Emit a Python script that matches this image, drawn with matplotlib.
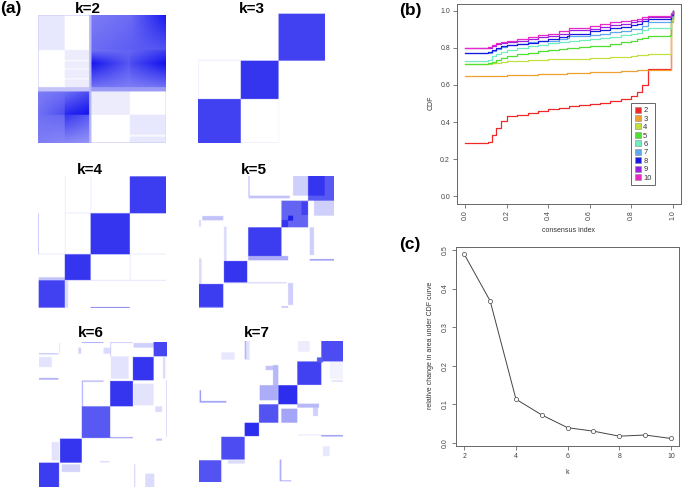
import numpy as np
import matplotlib
matplotlib.use('Agg')
import matplotlib.pyplot as plt
from matplotlib.colors import LinearSegmentedColormap
from matplotlib.lines import Line2D

plt.rcParams['font.family'] = ['Liberation Sans', 'DejaVu Sans']

W, H = 686, 488

# consensus matrices: blocks are (x0, x1, y0, y1, level), level may be 4 corners
k2_blocks = [
    (115, 195, 45, 150, .1), (195, 268, 150, 262, .08),
    (115, 268, 262, 275, .25), (268, 275, 45, 430, .3),
    (275, 390, 45, 150, (.55, .62, .62, .68)), (390, 498, 45, 150, (.62, .98, .68, .72)),
    (275, 390, 150, 190, (.6, .65, .98, .7)), (275, 390, 190, 262, (.98, .7, .6, .55)),
    (390, 498, 150, 190, (.65, .8, .75, 1)), (390, 498, 190, 262, (.75, 1, .55, .6)),
    (275, 498, 262, 275, .42),
    (115, 195, 275, 345, (.55, .6, .6, .75)), (195, 268, 275, 345, (.6, .75, .9, 1)),
    (115, 195, 345, 430, (.6, .65, .55, .5)), (195, 268, 345, 430, (.85, .7, .5, .45)),
    (275, 390, 275, 345, .08), (390, 498, 345, 430, .1),
    (390, 498, 405, 411, .03), (195, 268, 180, 184, .03), (195, 268, 205, 209, .03),
    (195, 268, 235, 239, .03), (115, 268, 45, 47, .2), (115, 117, 45, 262, .2),
    (275, 498, 428, 430, .2), (496, 498, 275, 430, .15),
]
k3_blocks = [
    (595, 723, 298, 430, .8), (723, 836, 183, 298, .85), (836, 975, 42, 183, .8),
    (595, 723, 180, 183, .08), (595, 597, 183, 298, .08), (723, 836, 428, 430, .08),
    (836, 838, 298, 430, .05),
]
k4_blocks = [
    (117, 195, 376, 458, .8), (195, 272, 298, 376, .85),
    (272, 389, 175, 298, .85), (389, 497, 64, 175, .82),
    (195, 197, 64, 298, .12), (272, 274, 64, 175, .12), (117, 272, 296, 298, .12),
    (389, 497, 296, 298, .12), (389, 391, 298, 376, .12), (195, 497, 375, 377, .15),
    (115, 117, 175, 298, .3), (272, 389, 456, 459, .5), (117, 195, 367, 376, .25),
    (195, 205, 376, 458, .15), (197, 389, 173, 175, .12),
]
k5_blocks = [
    (597, 670, 387, 458, .82), (672, 742, 318, 384, .85), (745, 845, 217, 316, .82),
    (845, 925, 137, 217, .65), (845, 865, 195, 217, .85), (865, 880, 182, 197, .95),
    (905, 925, 140, 180, .8), (925, 1003, 63, 137, .7), (925, 975, 63, 122, .85),
    (880, 925, 63, 122, .2), (943, 1003, 137, 182, .2), (607, 670, 183, 196, .25),
    (745, 870, 122, 130, .25), (745, 750, 63, 130, .2), (597, 605, 310, 387, .15),
    (672, 680, 215, 318, .15), (865, 880, 384, 450, .2), (930, 943, 217, 300, .2),
    (930, 1003, 312, 317, .4), (745, 865, 303, 316, .35), (672, 860, 382, 385, .2),
    (597, 670, 456, 459, .4), (845, 865, 454, 458, .3), (597, 603, 195, 215, .15),
]
k6_blocks = [
    (117, 177, 427, 500, .82), (180, 245, 355, 427, .85), (245, 330, 258, 353, .7),
    (330, 398, 182, 258, .85), (398, 460, 110, 180, .85), (460, 500, 65, 108, .78),
    (185, 240, 432, 455, .18), (155, 177, 365, 420, .12), (245, 310, 64, 68, .35),
    (117, 175, 99, 102, .3), (117, 175, 173, 178, .35), (117, 155, 110, 140, .12),
    (332, 385, 108, 175, .12), (245, 310, 180, 185, .25), (245, 249, 182, 258, .3),
    (400, 460, 190, 255, .12), (400, 460, 68, 82, .2), (330, 398, 350, 354, .35),
    (435, 462, 460, 500, .15), (402, 405, 432, 500, .2), (488, 495, 110, 175, .15),
    (465, 485, 258, 275, .15), (498, 500, 180, 350, .2), (468, 485, 355, 361, .25),
    (235, 243, 82, 100, .2), (310, 330, 82, 100, .15), (330, 398, 65, 68, .2),
    (330, 333, 65, 108, .2), (178, 180, 68, 100, .15), (300, 328, 423, 426, .2),
]
k7_blocks = [
    (598, 665, 422, 487, .72), (665, 735, 352, 420, .75), (735, 778, 310, 350, .88),
    (778, 836, 255, 310, .72), (836, 893, 198, 255, .88), (893, 965, 127, 197, .8),
    (965, 1030, 63, 127, .75), (780, 835, 198, 243, .35), (845, 893, 268, 310, .38),
    (820, 836, 138, 198, .3), (798, 820, 140, 153, .25), (893, 958, 253, 265, .3),
    (940, 955, 265, 290, .2), (665, 705, 100, 122, .1), (600, 604, 213, 250, .45),
    (600, 680, 245, 250, .4), (965, 1030, 347, 351, .45), (895, 965, 345, 348, .1),
    (735, 750, 64, 122, .12), (735, 740, 64, 120, .3), (840, 845, 420, 485, .35),
    (840, 875, 482, 485, .35), (970, 990, 380, 410, .1), (895, 930, 65, 98, .08),
    (685, 735, 422, 432, .15), (952, 970, 115, 130, .7), (990, 1030, 127, 180, .05),
    (995, 1030, 183, 188, .12),
]

# where each panel sits: block coordinates and pixels on the page
panels = [
    ('k=2', k2_blocks, (115, 498, 45, 430), (38, 166, 15, 143), 88, 9),
    ('k=3', k3_blocks, (595, 975, 40, 430), (198, 325, 13, 143), 252, 9),
    ('k=4', k4_blocks, (115, 497, 63, 459), (38, 166, 176, 308), 90, 170),
    ('k=5', k5_blocks, (597, 1003, 63, 459), (199, 334, 176, 308), 254, 170),
    ('k=6', k6_blocks, (117, 500, 65, 500), (39, 167, 342, 487), 91, 333),
    ('k=7', k7_blocks, (598, 1030, 63, 487), (199, 343, 341, 482), 257, 333),
]

consensus_x = [0, .1, .11, .13, .15, .17, .2, .25, .3, .35, .4, .45, .49, .5, .55, .6,
               .65, .7, .75, .8, .83, .85, .88, .985, .99, 1.0]
cdf_2 = [.285, .285, .29, .33, .37, .405, .43, .44, .45, .46, .47, .475, .478, .488, .49, .50,
         .505, .515, .525, .54, .563, .60, .685, .688, .95, 1]
cdf_3 = [.648, .649, .649, .650, .650, .651, .652, .653, .655, .657, .659, .661, .663, .665, .666, .668,
         .670, .672, .674, .677, .679, .680, .682, .683, .94, 1]
cdf_4 = [.712, .712, .714, .717, .72, .722, .727, .730, .733, .736, .738, .740, .741, .742, .743, .745,
         .747, .750, .753, .757, .760, .763, .770, .770, .95, 1]
cdf_5 = [.715, .715, .717, .725, .735, .745, .755, .765, .775, .782, .79, .796, .798, .802, .804, .808,
         .812, .822, .83, .84, .848, .855, .867, .868, .96, 1]
cdf_6 = [.73, .73, .735, .755, .77, .78, .79, .80, .81, .818, .825, .83, .832, .84, .843, .847,
         .852, .86, .868, .875, .88, .895, .91, .91, .97, 1]
cdf_7 = [.772, .772, .775, .785, .795, .805, .815, .822, .83, .835, .84, .85, .853, .862, .865, .87,
         .877, .885, .893, .90, .905, .92, .938, .938, .975, 1]
cdf_8 = [.772, .772, .778, .79, .80, .81, .815, .82, .825, .84, .85, .86, .862, .875, .878, .89,
         .895, .91, .915, .925, .93, .945, .958, .958, .98, 1]
cdf_9 = [.798, .798, .802, .81, .82, .825, .832, .84, .85, .858, .865, .875, .878, .895, .898, .905,
         .915, .925, .93, .94, .945, .955, .965, .965, .985, 1]
cdf_10 = [.80, .80, .805, .815, .825, .83, .838, .848, .858, .868, .878, .89, .892, .908, .91, .92,
          .93, .938, .945, .95, .955, .965, .972, .972, .99, 1]
cdf_labels = ['2', '3', '4', '5', '6', '7', '8', '9', '10']
cdf_colors = ['#f02828', '#f0a030', '#c0e040', '#50e030', '#70eec0',
              '#60a8ee', '#1818e0', '#9a20e0', '#e828c8']

k_values = [2, 3, 4, 5, 6, 7, 8, 9, 10]
delta_area = [.489, .368, .113, .072, .039, .030, .017, .020, .011]

GREY = '#666666'
cmap = LinearSegmentedColormap.from_list('consensus', ['#ffffff', '#1212ee'])


def add_axes(fig, x0, x1, y0, y1):
    return fig.add_axes([x0 / W, 1 - y1 / H, (x1 - x0) / W, (y1 - y0) / H])


def fill_blocks(blocks, box):
    xa, xb, ya, yb = box
    m = np.zeros((yb - ya, xb - xa))
    for x0, x1, y0, y1, level in blocks:
        x0, x1 = max(x0, xa) - xa, min(x1, xb) - xa
        y0, y1 = max(y0, ya) - ya, min(y1, yb) - ya
        if isinstance(level, tuple):
            tl, tr, bl, br = level
            u = np.linspace(0, 1, x1 - x0)[None, :]
            v = np.linspace(0, 1, y1 - y0)[:, None]
            m[y0:y1, x0:x1] = (tl * (1 - u) + tr * u) * (1 - v) + (bl * (1 - u) + br * u) * v
        else:
            m[y0:y1, x0:x1] = level
    return m


def style_axes(ax):
    for s in ax.spines.values():
        s.set_color(GREY)
        s.set_linewidth(0.7)
    ax.tick_params(length=3, width=0.6, color=GREY, labelcolor='#444444', labelsize=5, pad=2)


fig = plt.figure(figsize=(W / 100, H / 100), dpi=100)

for title, blocks, box, page, tx, ty in panels:
    ax = add_axes(fig, page[0], page[1], page[2], page[3])
    ax.imshow(fill_blocks(blocks, box), cmap=cmap, vmin=0, vmax=1, aspect='auto',
              interpolation='antialiased')
    ax.axis('off')
    fig.text(tx / W, 1 - ty / H, title, ha='center', va='center', fontsize=11, fontweight='bold')

# CDF panel
ax = add_axes(fig, 457, 681, 3.5, 203.5)
cdfs = [cdf_2, cdf_3, cdf_4, cdf_5, cdf_6, cdf_7, cdf_8, cdf_9, cdf_10]
for ys, col in zip(cdfs, cdf_colors):
    ax.plot(consensus_x, ys, color=col, lw=0.9, drawstyle='steps-post')
ax.set_xlim(-0.04, 1.04)
ax.set_ylim(-0.04, 1.04)
ax.set_xticks([0, .2, .4, .6, .8, 1])
ax.set_xticklabels(['0.0', '0.2', '0.4', '0.6', '0.8', '1.0'], rotation=90)
ax.set_yticks([0, .2, .4, .6, .8, 1])
ax.set_yticklabels(['0.0', '0.2', '0.4', '0.6', '0.8', '1.0'])
style_axes(ax)
handles = [Line2D([], [], ls='', marker='s', ms=4.5, mfc=c, mec='#888888', mew=0.4) for c in cdf_colors]
leg = ax.legend(handles, cdf_labels, loc='upper left', bbox_to_anchor=(0.775, 0.5), fontsize=5.5,
                fancybox=False, framealpha=1, edgecolor=GREY, labelspacing=0.14,
                handletextpad=0.2, borderpad=0.45, handlelength=1.0, borderaxespad=0)
leg.get_frame().set_linewidth(0.7)
for t in leg.get_texts():
    t.set_color('#333333')

# delta area panel
ax = add_axes(fig, 456, 679, 247, 446)
ax.plot(k_values, delta_area, color='#444444', lw=0.7, marker='o', ms=3, mfc='white',
        mec='#444444', mew=0.5)
ax.set_xlim(2 - 8 * 8.3 / 206.3, 10 + 8 * 8 / 206.3)
ax.set_ylim(-0.0085, 0.508)
ax.set_xticks([2, 4, 6, 8, 10])
ax.set_yticks([0, .1, .2, .3, .4, .5])
ax.set_yticklabels(['0.0', '0.1', '0.2', '0.3', '0.4', '0.5'], rotation=90, va='center')
style_axes(ax)

# axis titles and panel letters
fig.text(569 / W, 1 - 231 / H, 'consensus index', ha='center', va='center', fontsize=5, color='#333333')
fig.text(431 / W, 1 - 103 / H, 'CDF', ha='center', va='center', rotation=90, fontsize=5, color='#333333')
fig.text(567 / W, 1 - 473 / H, 'k', ha='center', va='center', fontsize=5, color='#333333')
fig.text(431 / W, 1 - 345 / H, 'relative change in area under CDF curve', ha='center', va='center',
         rotation=90, fontsize=5, color='#333333')
fig.text(0 / W, 1 - 9 / H, '(a)', va='center', fontsize=12.5, fontweight='bold')
fig.text(399 / W, 1 - 11 / H, '(b)', va='center', fontsize=12.5, fontweight='bold')
fig.text(399 / W, 1 - 245 / H, '(c)', va='center', fontsize=12.5, fontweight='bold')

fig.savefig('out.png', dpi=100)
